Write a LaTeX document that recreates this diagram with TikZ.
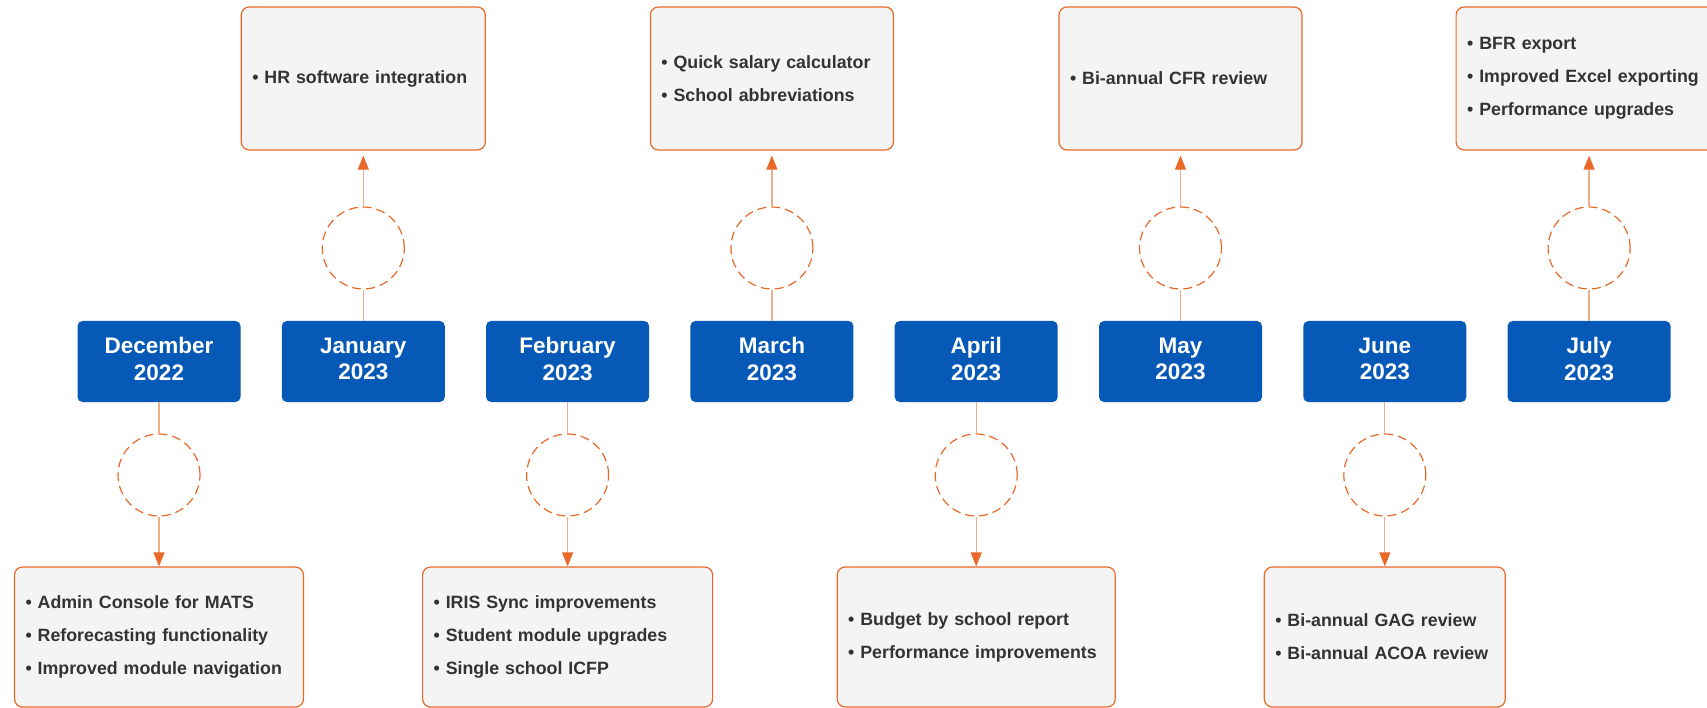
\documentclass[tikz,border=0pt]{standalone}
\usepackage{fontspec}
\setmainfont{Liberation Sans}
\usetikzlibrary{arrows.meta}
\definecolor{mblue}{HTML}{0659B7}
\definecolor{morange}{HTML}{E8692A}
\definecolor{mline}{HTML}{EBB08A}
\definecolor{mgray}{HTML}{F4F4F4}
\definecolor{mtext}{HTML}{333333}
\newcommand{\myitemfont}{\bfseries\fontsize{17.8}{33}\selectfont\hyphenpenalty=10000 \exhyphenpenalty=10000 }
\begin{document}
\begin{tikzpicture}[x=1pt,y=-1pt,
 month/.style={rectangle, rounded corners=5pt, fill=mblue, minimum width=163pt, minimum height=81pt, inner sep=0pt},
 monthtext/.style={text=white, align=center, font=\bfseries\fontsize{22.5}{26.6}\selectfont, inner sep=0pt},
 item/.style={rectangle, rounded corners=8pt, draw=morange, line width=1.2pt, fill=mgray, text=mtext, inner xsep=11pt, inner ysep=0pt, align=left, font=\myitemfont},
 ring/.style={circle, draw=morange, dash pattern=on 9pt off 5pt, line width=1.2pt, minimum size=82pt, inner sep=0pt},
 link/.style={draw=mline, line width=1.3pt},
 arr/.style={link, -{Triangle[length=14pt,width=11pt,color=morange]}},
]
\useasboundingbox (0,0) rectangle (1707,708);
\fill[white] (0,0) rectangle (1707,708);

% month boxes
\foreach \i/\mn/\yr/\x in {0/December/2022/159, 1/January/2023/363.3, 2/February/2023/567.6, 3/March/2023/771.9, 4/April/2023/976.2, 5/May/2023/1180.5, 6/June/2023/1384.8, 7/July/2023/1589.1}{
  \node[month] (m\i) at (\x,361.5) {};
  \node[monthtext] (mt\i) at ([yshift=2.5pt]m\i.center) {\mn\\\yr};
}

% rings
\node[ring] (r0) at (159,475) {};
\node[ring] (r1) at (363.3,248) {};
\node[ring] (r2) at (567.6,475) {};
\node[ring] (r3) at (771.9,248) {};
\node[ring] (r4) at (976.2,475) {};
\node[ring] (r5) at (1180.5,248) {};
\node[ring] (r6) at (1384.8,475) {};
\node[ring] (r7) at (1589.1,248) {};

% bottom boxes
\node[item, text width=267pt, minimum height=140pt] (b0) at (159,637) {\textbullet{} Admin Console for MATS\\\textbullet{} Reforecasting functionality\\\textbullet{} Improved module navigation};
\node[item, text width=268pt, minimum height=140pt] (b2) at (567.6,637) {\textbullet{} IRIS Sync improvements\\\textbullet{} Student module upgrades\\\textbullet{} Single school ICFP};
\node[item, text width=256pt, minimum height=140pt] (b4) at (976.2,637) {\textbullet{} Budget by school report\\\textbullet{} Performance improvements};
\node[item, text width=219pt, minimum height=140pt] (b6) at (1384.8,637) {\textbullet{} Bi-annual GAG review\\\textbullet{} Bi-annual ACOA review};

% top boxes
\node[item, text width=222pt, minimum height=143pt] (t1) at (363.3,78.5) {\textbullet{} HR software integration};
\node[item, text width=221pt, minimum height=143pt] (t3) at (771.9,78.5) {\textbullet{} Quick salary calculator\\\textbullet{} School abbreviations};
\node[item, text width=221pt, minimum height=143pt] (t5) at (1180.5,78.5) {\textbullet{} Bi-annual CFR review};
\node[item, text width=244pt, minimum height=143pt] (t7) at (1589.1,78.5) {\textbullet{} BFR export\\\textbullet{} Improved Excel exporting\\\textbullet{} Performance upgrades};

% connectors bottom
\foreach \i in {0,2,4,6}{
  \draw[link] (m\i.south) -- (r\i.north);
  \draw[arr] (r\i.south) -- (b\i.north);
}
% connectors top
\foreach \i in {1,3,5,7}{
  \draw[link] (m\i.north) -- (r\i.south);
  \draw[arr, shorten >=5pt] (r\i.north) -- (t\i.south);
}
\end{tikzpicture}
\end{document}
